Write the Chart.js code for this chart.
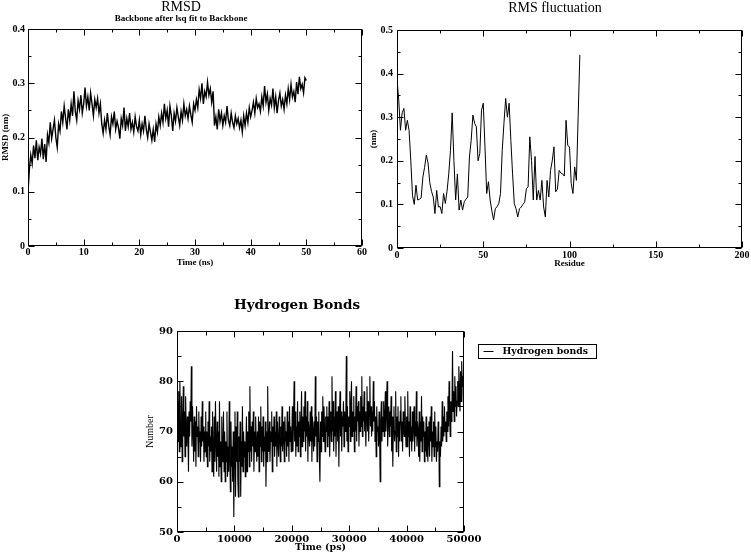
<!DOCTYPE html>
<html><head><meta charset="utf-8">
<script src="https://cdn.jsdelivr.net/npm/chart.js@4.4.1/dist/chart.umd.min.js"></script>
<style>
html,body{margin:0;padding:0;background:#fff;width:751px;height:553px;overflow:hidden}
canvas{position:absolute;display:block}
#c1{left:0;top:0}
#c2{left:368px;top:0}
#c3{left:130px;top:280px}
</style></head><body>
<canvas id="c1" width="368" height="270"></canvas>
<canvas id="c2" width="383" height="270"></canvas>
<canvas id="c3" width="621" height="273"></canvas>
<script>
// ---------- DATA ----------
// RMSD (nm), one value every 0.25 ns from 0 to 50 ns
const rmsdStep = 0.25;
const rmsdValues = [
 0.100,0.142,0.168,0.152,0.185,
 0.162,0.195,0.158,0.182,0.170,0.198,0.160,0.188,
 0.155,0.205,0.190,0.228,0.198,0.215,0.232,0.200,
 0.182,0.225,0.212,0.248,
 0.228,0.258,0.236,0.215,0.252,0.232,0.262,0.240,
 0.285,0.248,0.232,0.268,0.252,0.278,0.245,0.262,
 0.292,0.258,0.275,0.250,0.282,0.262,0.240,0.270,
 0.255,0.272,0.245,0.262,0.225,0.208,
 0.232,0.215,0.245,0.222,0.205,0.238,0.225,0.248,0.215,0.230,
 0.218,0.198,0.235,0.222,0.255,0.212,0.235,0.220,
 0.245,0.215,0.228,0.210,0.238,0.220,0.212,0.232,
 0.205,0.225,0.212,0.240,0.215,0.200,0.225,0.210,
 0.195,0.215,0.192,0.225,0.210,0.238,0.222,0.245,
 0.228,0.262,0.235,0.250,0.220,0.258,0.240,0.212,
 0.245,0.230,0.255,0.238,0.222,0.248,0.232,0.262,
 0.240,0.252,0.235,0.258,0.242,0.228,0.262,0.250,
 0.270,0.255,0.288,0.272,0.300,0.262,0.285,0.275,
 0.302,0.278,0.290,0.265,0.285,0.222,
 0.238,0.215,0.252,0.230,0.245,0.222,0.240,0.228,0.258,0.232,
 0.222,0.245,0.228,0.218,0.240,0.225,0.235,0.218,
 0.232,0.210,0.240,0.222,0.245,0.228,0.255,0.238,
 0.250,0.265,0.245,0.272,0.255,0.262,0.248,0.275,
 0.258,0.295,0.265,0.280,0.250,0.272,0.260,0.290,
 0.255,0.275,0.245,0.268,0.282,0.258,0.270,0.252,
 0.278,0.262,0.290,0.270,0.298,0.275,0.285,0.265,
 0.302,0.280,0.312,0.290,0.298,0.282,0.310,0.305
];
const rmsdXTicks = [0,10,20,30,40,50,60];
const rmsdXMinor = [5,15,25,35,45,55];
const rmsdYTicks = [0,0.1,0.2,0.3,0.4];
const rmsdYMinor = [0.05,0.15,0.25,0.35];

// RMS fluctuation (nm) per residue 0..106
const rmsfValues = [
 0.387,0.34,0.27,0.31,0.32,0.27,0.293,0.27,0.20,0.12,
 0.10,0.144,0.11,0.112,0.115,0.163,0.185,0.213,0.195,0.15,
 0.13,0.117,0.079,0.132,0.094,0.095,0.079,0.125,0.102,0.13,
 0.17,0.224,0.31,0.20,0.11,0.17,0.087,0.11,0.087,0.106,
 0.112,0.117,0.209,0.247,0.305,0.286,0.278,0.20,0.217,0.316,
 0.332,0.232,0.125,0.152,0.11,0.085,0.064,0.09,0.095,0.102,
 0.125,0.224,0.286,0.343,0.30,0.332,0.247,0.17,0.102,0.09,
 0.071,0.09,0.094,0.10,0.105,0.136,0.14,0.255,0.20,0.11,
 0.21,0.11,0.132,0.11,0.155,0.094,0.071,0.155,0.117,0.178,
 0.20,0.232,0.129,0.135,0.178,0.172,0.17,0.165,0.293,0.235,
 0.232,0.148,0.125,0.186,0.155,0.30,0.443
];
const rmsfXTicks = [0,50,100,150,200];
const rmsfXMinor = [25,75,125,175];
const rmsfYTicks = [0,0.1,0.2,0.3,0.4,0.5];
const rmsfYMinor = [0.05,0.15,0.25,0.35,0.45];

// Hydrogen bonds count, one value every 100 ps from 0 to 50000 ps
const hbStep = 100;
const hbondValues = [
 70,76,68,78,66,80,72,67,77,64,
 72,79,69,74,65,77,71,67,73,70,
 62,74,69,76,72,83,67,75,70,64,
 73,66,72,63,75,69,71,65,74,68,
 70,64,73,67,76,68,71,64,70,66,
 74,65,70,63,72,67,76,64,69,66,
 71,62,74,66,61,73,64,76,68,62,
 72,65,70,61,76,63,68,60,73,64,
 66,74,62,70,60,68,64,74,61,67,
 62,76,65,58,72,63,67,60,70,53,
 68,74,57,71,64,74,60,57,69,64,
 72,57,68,63,75,62,70,65,68,61,
 67,73,62,70,66,74,63,79,66,71,
 64,72,67,74,62,70,66,73,68,64,
 70,65,73,62,72,67,75,64,71,66,
 73,63,69,66,72,59,70,64,79,67,
 66,72,64,70,68,74,62,71,67,73,
 65,70,67,74,63,72,68,65,73,69,
 64,71,67,75,66,72,69,64,73,68,
 70,65,74,67,72,64,75,68,71,66,
 69,75,66,72,80,68,74,65,71,67,
 76,66,72,69,74,65,71,78,67,73,
 68,75,70,78,66,73,69,76,64,72,
 70,67,74,68,75,64,73,70,66,72,
 67,81,69,73,64,72,68,74,65,60,
 72,66,74,69,77,68,75,71,66,73,
 70,75,67,73,69,76,65,72,74,68,
 81,70,76,66,73,69,78,65,72,74,
 68,75,63,72,78,69,74,66,73,71,
 76,67,74,70,72,85,68,75,66,73,
 71,78,68,75,80,69,74,70,77,66,
 73,70,79,68,75,72,76,67,74,70,
 77,71,81,69,75,72,78,70,74,67,
 73,79,70,76,68,74,81,71,75,69,
 74,70,80,72,76,68,73,65,75,70,
 71,67,74,69,60,72,76,68,73,70,
 76,69,73,78,70,74,80,67,72,75,
 69,74,71,77,66,73,63,72,75,68,
 70,78,66,73,69,75,65,72,68,74,
 77,68,72,66,74,70,69,77,71,67,
 73,67,78,69,72,65,75,68,71,66,
 74,68,71,75,66,72,69,78,67,72,
 70,65,74,64,72,68,77,66,73,69,
 72,64,70,66,73,65,71,64,69,72,
 65,73,68,75,64,70,67,72,65,74,
 67,71,64,68,66,72,70,59,68,65,
 71,67,76,68,73,69,75,70,72,68,
 74,70,77,71,80,73,69,76,72,75,
 86,74,78,72,81,75,79,73,76,80,
 75,83,78,74,82,76,84,79,81,76,
 70
];
const hbXTicks = [0,10000,20000,30000,40000,50000];
const hbXMinor = [5000,15000,25000,35000,45000];
const hbYTicks = [50,60,70,80,90];
const hbYMinor = [55,65,75,85];

// ---------- HELPERS ----------
const SERIF = "'Liberation Serif','Times New Roman',serif";
const WIDE = "'DejaVu Serif',serif";

const frameTicks = {
  id: 'frameTicks',
  afterDatasetsDraw(chart, args, o) {
    const {ctx, chartArea: a, scales: {x, y}} = chart;
    const L = Math.round(a.left) + 0.5, R = Math.round(a.right) - 0.5;
    const T = Math.round(a.top) + 0.5, B = Math.round(a.bottom) - 0.5;
    ctx.save();
    ctx.strokeStyle = '#000';
    ctx.lineWidth = 1;
    ctx.strokeRect(L, T, R - L, B - T);
    ctx.beginPath();
    const xs = (vals, len) => vals.forEach(v => {
      const p = Math.round(x.getPixelForValue(v)) + 0.5;
      ctx.moveTo(p, B); ctx.lineTo(p, B - len);
      ctx.moveTo(p, T); ctx.lineTo(p, T + len);
    });
    const ys = (vals, len) => vals.forEach(v => {
      const p = Math.round(y.getPixelForValue(v)) + 0.5;
      ctx.moveTo(L, p); ctx.lineTo(L + len, p);
      ctx.moveTo(R, p); ctx.lineTo(R - len, p);
    });
    xs(o.xMajor, o.major); xs(o.xMinor, o.minor);
    ys(o.yMajor, o.major); ys(o.yMinor, o.minor);
    ctx.stroke();
    ctx.restore();
  }
};

const boxLegend = {
  id: 'boxLegend',
  afterDraw(chart, args, o) {
    if (!o.show) return;
    const {ctx, chartArea: a} = chart;
    const ds = chart.data.datasets[0];
    const x0 = Math.round(a.right + o.dx) + 0.5, y0 = Math.round(a.top + o.dy) + 0.5;
    ctx.save();
    ctx.strokeStyle = '#000'; ctx.lineWidth = 1;
    ctx.strokeRect(x0, y0, o.w, o.h);
    ctx.beginPath();
    ctx.moveTo(x0 + 5, y0 + o.h / 2); ctx.lineTo(x0 + 15, y0 + o.h / 2);
    ctx.stroke();
    ctx.fillStyle = '#000';
    ctx.font = o.font;
    ctx.textBaseline = 'middle';
    ctx.textAlign = 'left';
    ctx.fillText(ds.label, x0 + 24, y0 + o.h / 2 + 0.5);
    ctx.restore();
  }
};

function makeChart(id, cfg) {
  const pts = cfg.values.map((v, i) => ({x: i * cfg.step, y: v}));
  return new Chart(document.getElementById(id), {
    type: 'line',
    data: {datasets: [{label: cfg.label, data: pts, borderColor: '#000',
      borderWidth: cfg.lw, pointRadius: 0, tension: 0, fill: false}]},
    options: {
      responsive: false, animation: false, devicePixelRatio: 1,
      events: [],
      layout: {padding: {left: 0, right: cfg.padRight, top: 0, bottom: 0}},
      plugins: {
        legend: {display: false},
        tooltip: {enabled: false},
        title: cfg.title,
        subtitle: cfg.subtitle || {display: false},
        frameTicks: {xMajor: cfg.xTicks, xMinor: cfg.xMinor, yMajor: cfg.yTicks, yMinor: cfg.yMinor, major: cfg.majorLen, minor: cfg.minorLen},
        boxLegend: cfg.legend || {show: false}
      },
      scales: {
        x: {
          type: 'linear', min: cfg.xTicks[0], max: cfg.xTicks[cfg.xTicks.length - 1],
          grid: {display: false, drawTicks: false}, border: {display: false},
          afterBuildTicks: s => { s.ticks = cfg.xTicks.map(v => ({value: v})); },
          afterFit: s => { s.height = cfg.xHeight; },
          ticks: {autoSkip: false, maxRotation: 0, padding: cfg.xTickPad, color: '#000',
            font: cfg.tickFont, callback: v => String(v)},
          title: {display: true, text: cfg.xTitle, color: '#000', font: cfg.axisFont,
            padding: {top: 0, bottom: cfg.xTitlePad}}
        },
        y: {
          type: 'linear', min: cfg.yTicks[0], max: cfg.yTicks[cfg.yTicks.length - 1],
          grid: {display: false, drawTicks: false}, border: {display: false},
          afterBuildTicks: s => { s.ticks = cfg.yTicks.map(v => ({value: v})); },
          afterFit: s => { s.width = cfg.yWidth; },
          ticks: {autoSkip: false, padding: cfg.yTickPad, color: '#000',
            font: cfg.tickFont, callback: v => String(v)},
          title: {display: true, text: cfg.yTitle, color: '#000', font: cfg.yAxisFont || cfg.axisFont,
            padding: {top: cfg.yTitlePad, bottom: 0}}
        }
      }
    },
    plugins: [frameTicks, boxLegend]
  });
}

// ---------- CHARTS ----------
makeChart('c1', {
  values: rmsdValues, step: rmsdStep, label: 'RMSD', lw: 1.4,
  xTicks: rmsdXTicks, xMinor: rmsdXMinor, yTicks: rmsdYTicks, yMinor: rmsdYMinor,
  majorLen: 6, minorLen: 3,
  padRight: 6, xHeight: 24, yWidth: 28, xTickPad: 0, yTickPad: 3,
  tickFont: {family: SERIF, size: 10, weight: 'bold', lineHeight: 1.2},
  axisFont: {family: SERIF, size: 9, weight: 'bold', lineHeight: 1.2},
  xTitle: 'Time (ns)', yTitle: 'RMSD (nm)', xTitlePad: 2, yTitlePad: 0,
  title: {display: true, text: 'RMSD', color: '#000',
    font: {family: SERIF, size: 14, weight: 'normal', lineHeight: 1}, padding: {top: 0, bottom: 0}},
  subtitle: {display: true, text: 'Backbone after lsq fit to Backbone', color: '#000',
    font: {family: SERIF, size: 9, weight: 'bold', lineHeight: 1}, padding: {top: 0, bottom: 6}}
});

makeChart('c2', {
  values: rmsfValues, step: 1, label: 'RMSF', lw: 1,
  xTicks: rmsfXTicks, xMinor: rmsfXMinor, yTicks: rmsfYTicks, yMinor: rmsfYMinor,
  majorLen: 6, minorLen: 3,
  padRight: 9, xHeight: 22, yWidth: 29, xTickPad: 1, yTickPad: 4,
  tickFont: {family: SERIF, size: 10, weight: 'bold', lineHeight: 1.2},
  axisFont: {family: SERIF, size: 9, weight: 'bold', lineHeight: 1.2},
  xTitle: 'Residue', yTitle: '(nm)', xTitlePad: 1, yTitlePad: 0,
  title: {display: true, text: 'RMS fluctuation', color: '#000',
    font: {family: SERIF, size: 14, weight: 'normal', lineHeight: 1}, padding: {top: 1, bottom: 15}}
});

makeChart('c3', {
  values: hbondValues, step: hbStep, label: 'Hydrogen bonds', lw: 1.1,
  xTicks: hbXTicks, xMinor: hbXMinor, yTicks: hbYTicks, yMinor: hbYMinor,
  majorLen: 6, minorLen: 4,
  padRight: 287, xHeight: 21, yWidth: 47, xTickPad: 1.5, yTickPad: 4,
  tickFont: {family: WIDE, size: 10, weight: 'bold', lineHeight: 1.2},
  axisFont: {family: WIDE, size: 9.5, weight: 'bold', lineHeight: 1.2},
  yAxisFont: {family: SERIF, size: 10, weight: 'normal', lineHeight: 1.2},
  xTitle: 'Time (ps)', yTitle: 'Number', xTitlePad: 0, yTitlePad: 14,
  title: {display: true, text: 'Hydrogen Bonds', color: '#000',
    font: {family: WIDE, size: 13.5, weight: 'bold', lineHeight: 1}, padding: {top: 19, bottom: 18.5}},
  legend: {show: true, dx: 14, dy: 13, w: 118, h: 14,
    font: "bold 9.3px 'DejaVu Serif', serif"}
});
</script>
</body></html>
